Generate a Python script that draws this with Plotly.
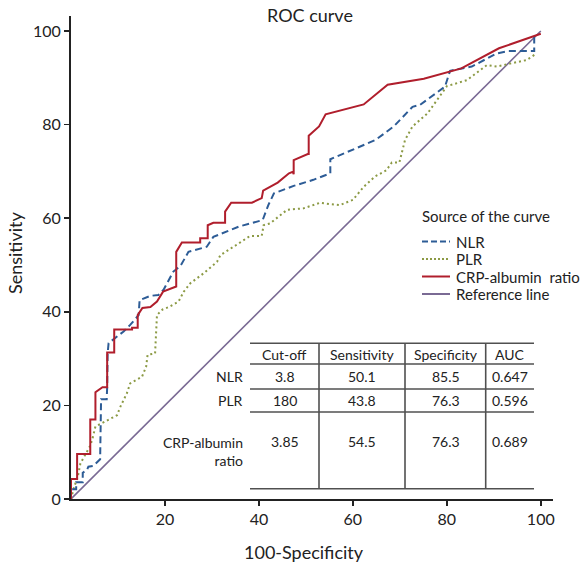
import plotly.graph_objects as go

# ---------------- data ----------------
crp_x = [0, 0, 1.3, 1.3, 4.1, 4.1, 5.2, 5.2, 6.7, 7.7, 7.7, 9.2, 9.2, 13.0, 13.0, 14.2, 14.2, 15.2, 16.9,
         18.3, 19.6, 22.4, 22.4, 23.6, 27.5, 27.5, 29.1, 29.1, 30.3, 32.8, 32.8, 34.1, 38.5, 40.6, 40.9,
         44.0, 46.4, 47.2, 47.4, 47.4, 50.4, 50.6, 50.6, 52.8, 54.2, 62.3, 67.4, 75.1, 83.1, 91.1, 100]
crp_y = [0, 4.3, 4.3, 9.6, 9.6, 17.0, 17.0, 22.8, 23.9, 23.9, 31.3, 31.3, 36.2, 36.2, 36.6, 36.6, 39.3, 40.8, 41.0,
         42.2, 44.3, 45.4, 52.8, 54.8, 54.8, 55.7, 55.7, 58.5, 59.0, 59.0, 61.4, 63.3, 63.3, 64.3, 65.9,
         67.6, 69.6, 69.9, 69.4, 72.4, 73.7, 73.7, 77.6, 79.6, 82.2, 84.3, 88.5, 89.8, 92.0, 96.3, 99.4]

nlr_x = [0, 0, 1.1, 1.1, 2.5, 2.5, 3.4, 3.7, 4.8, 6.2, 6.4, 7.6, 7.7, 7.8, 8.0, 11.2, 12.6, 14.4, 14.6,
         16.9, 18.6, 19.7, 21.8, 23.3, 25.0, 28.9, 30.3, 35.7, 40.8, 42.0, 43.2, 47.4, 51.6, 55.2, 55.2,
         64.8, 68.7, 72.7, 74.3, 79.6, 80.7, 85.3, 90.6, 93.1, 98.6, 98.6]
nlr_y = [0, 2.1, 2.1, 3.6, 3.6, 5.6, 6.2, 6.9, 7.1, 8.5, 21.3, 21.3, 23.9, 31.1, 33.3, 35.8, 37.2, 39.3, 42.5,
         43.4, 43.6, 44.7, 48.6, 49.8, 52.8, 53.9, 56.0, 58.2, 59.6, 62.8, 65.3, 66.9, 68.2, 69.6, 72.6,
         76.7, 79.6, 83.8, 84.2, 88.1, 91.5, 92.4, 95.2, 95.7, 95.7, 99.1]

plr_x = [0, 0.5, 1.5, 2.0, 3.0, 4.0, 4.5, 5.2, 6.6, 9.8, 10.5, 11.9, 12.6, 15.1, 16.0, 16.3, 17.9, 18.3,
         19.5, 20.8, 22.9, 24.0, 25.4, 28.2, 31.1, 31.8, 34.6, 38.1, 40.6, 41.0, 42.4, 46.0, 49.5, 51.6,
         53.0, 55.2, 57.2, 60.0, 62.3, 64.7, 67.1, 68.3, 69.9, 71.1, 72.7, 75.9, 80.0, 84.3, 88.5, 90.6,
         94.2, 97.0, 99.1]
plr_y = [0, 2.0, 5.0, 7.6, 9.4, 11.2, 12.6, 15.5, 16.2, 17.9, 19.7, 22.6, 24.7, 26.1, 28.3, 30.8, 31.1, 39.3,
         40.5, 41.0, 42.2, 44.3, 46.1, 48.2, 50.7, 52.1, 53.9, 56.2, 56.2, 58.5, 58.9, 61.8, 62.1, 62.8,
         63.3, 63.0, 62.8, 63.9, 66.7, 68.9, 70.2, 71.9, 71.9, 76.7, 79.6, 82.4, 88.2, 89.5, 92.7, 92.4,
         93.2, 93.8, 95.2]

ref_x = [0, 100]
ref_y = [0, 100]

series_names = ["NLR", "PLR", "CRP-albumin  ratio", "Reference line"]
x_ticks = [20, 40, 60, 80, 100]
y_ticks = [0, 20, 40, 60, 80, 100]

table_cols = ["Cut-off", "Sensitivity", "Specificity", "AUC"]
table_rows = ["NLR", "PLR", "CRP-albumin<br>ratio"]
cutoffs = ["3.8", "180", "3.85"]
sensitivities = ["50.1", "43.8", "54.5"]
specificities = ["85.5", "76.3", "76.3"]
aucs = ["0.647", "0.596", "0.689"]

# ---------------- styles ----------------
FONT = "Lato"
TXT = "#222222"
C_NLR = "#2d5c96"
C_PLR = "#8c9a45"
C_CRP = "#b01e2c"
C_REF = "#7a6a94"
GRID = "#505050"

W, H = 584, 569
L, R, T, B = 71, 31, 16, 70
PW, PH = W - L - R, H - T - B


def px(x):
    return (x - L) / PW


def py(y):
    return (H - B - y) / PH


fig = go.Figure()
fig.add_trace(go.Scatter(x=ref_x, y=ref_y, mode="lines", line=dict(color=C_REF, width=1.6),
                         name=series_names[3]))
fig.add_trace(go.Scatter(x=plr_x, y=plr_y, mode="lines", line=dict(color=C_PLR, width=2, dash="2px,3px"),
                         name=series_names[1]))
fig.add_trace(go.Scatter(x=nlr_x, y=nlr_y, mode="lines", line=dict(color=C_NLR, width=2, dash="7px,4px"),
                         name=series_names[0]))
fig.add_trace(go.Scatter(x=crp_x, y=crp_y, mode="lines", line=dict(color=C_CRP, width=2),
                         name=series_names[2]))

shapes = []
annotations = []

# title
annotations.append(dict(text="ROC curve", x=px(310), y=py(15), xref="paper", yref="paper",
                        showarrow=False, font=dict(family=FONT, size=18, color=TXT),
                        xanchor="center", yanchor="middle"))
# axis titles
annotations.append(dict(text="100-Specificity", x=px(304), y=py(552), xref="paper", yref="paper",
                        showarrow=False, font=dict(family=FONT, size=18, color=TXT),
                        xanchor="center", yanchor="middle"))
annotations.append(dict(text="Sensitivity", x=px(15), y=py(253), xref="paper", yref="paper",
                        showarrow=False, textangle=-90, font=dict(family=FONT, size=18, color=TXT),
                        xanchor="center", yanchor="middle"))

# legend (manual)
annotations.append(dict(text="Source of the curve", x=px(420), y=py(216), xref="paper", yref="paper",
                        showarrow=False, font=dict(family=FONT, size=15, color=TXT),
                        xanchor="left", yanchor="middle"))
leg_items = [(series_names[0], C_NLR, "dash", 241.5), (series_names[1], C_PLR, "dot", 259),
             (series_names[2], C_CRP, "solid", 276.5), (series_names[3], C_REF, "solid", 294)]
for name, col, dash, yy in leg_items:
    d = {"dash": "6px,3px", "dot": "2px,2px", "solid": "solid"}[dash]
    shapes.append(dict(type="line", xref="paper", yref="paper", x0=px(422), x1=px(450), y0=py(yy), y1=py(yy),
                       line=dict(color=col, width=2, dash=d)))
    annotations.append(dict(text=name.replace("  ", "&nbsp; "), x=px(454), y=py(yy), xref="paper", yref="paper",
                            showarrow=False, font=dict(family=FONT, size=15, color=TXT),
                            xanchor="left", yanchor="middle"))

# table lines
t_left, t_right = 250, 534
h_lines = [343.3, 364, 389, 412, 488.7]
v_lines = [319, 405, 485.7]
for yy in h_lines:
    shapes.append(dict(type="line", xref="paper", yref="paper", x0=px(t_left), x1=px(t_right),
                       y0=py(yy), y1=py(yy), line=dict(color=GRID, width=1.6)))
for xx in v_lines:
    shapes.append(dict(type="line", xref="paper", yref="paper", x0=px(xx), x1=px(xx),
                       y0=py(h_lines[0]), y1=py(h_lines[-1]), line=dict(color=GRID, width=1.6)))

col_centers = [284.5, 362, 445.5, 510]
row_centers = [376.5, 400.5, 441.7]
header_y = 354

for c, cx in zip(table_cols, col_centers):
    annotations.append(dict(text=c, x=px(cx), y=py(header_y), xref="paper", yref="paper", showarrow=False,
                            font=dict(family=FONT, size=14, color=TXT), xanchor="center", yanchor="middle"))
for i, rname in enumerate(table_rows):
    ry = row_centers[i]
    if "<br>" in rname:
        annotations.append(dict(text=rname, x=px(245), y=py(ry - 10), xref="paper", yref="paper",
                                showarrow=False, align="right",
                                font=dict(family=FONT, size=14, color=TXT), xanchor="right", yanchor="top"))
    else:
        annotations.append(dict(text=rname, x=px(245), y=py(ry), xref="paper", yref="paper", showarrow=False,
                                font=dict(family=FONT, size=14, color=TXT), xanchor="right", yanchor="middle"))
    for val, cx in zip([cutoffs[i], sensitivities[i], specificities[i], aucs[i]], col_centers):
        annotations.append(dict(text=val, x=px(cx), y=py(ry), xref="paper", yref="paper", showarrow=False,
                                font=dict(family=FONT, size=14, color=TXT), xanchor="center", yanchor="middle"))

axis_common = dict(showgrid=False, zeroline=False, showline=True, linecolor="#222222", linewidth=2,
                   ticks="outside", ticklen=5, tickwidth=1.5, tickcolor="#222222",
                   tickfont=dict(family=FONT, size=16, color=TXT))
fig.update_layout(
    width=W, height=H,
    margin=dict(l=L, r=R, t=T, b=B),
    plot_bgcolor="white", paper_bgcolor="white",
    showlegend=False,
    hovermode=False,
    xaxis=dict(range=[0, 102.6], tickvals=x_ticks, **axis_common),
    yaxis=dict(range=[0, 103.2], tickvals=y_ticks, **axis_common),
    shapes=shapes, annotations=annotations,
)

fig.write_html("out.html", config={"displayModeBar": False, "staticPlot": True},
               post_script="document.body.style.margin='0';document.body.style.overflow='hidden';")
